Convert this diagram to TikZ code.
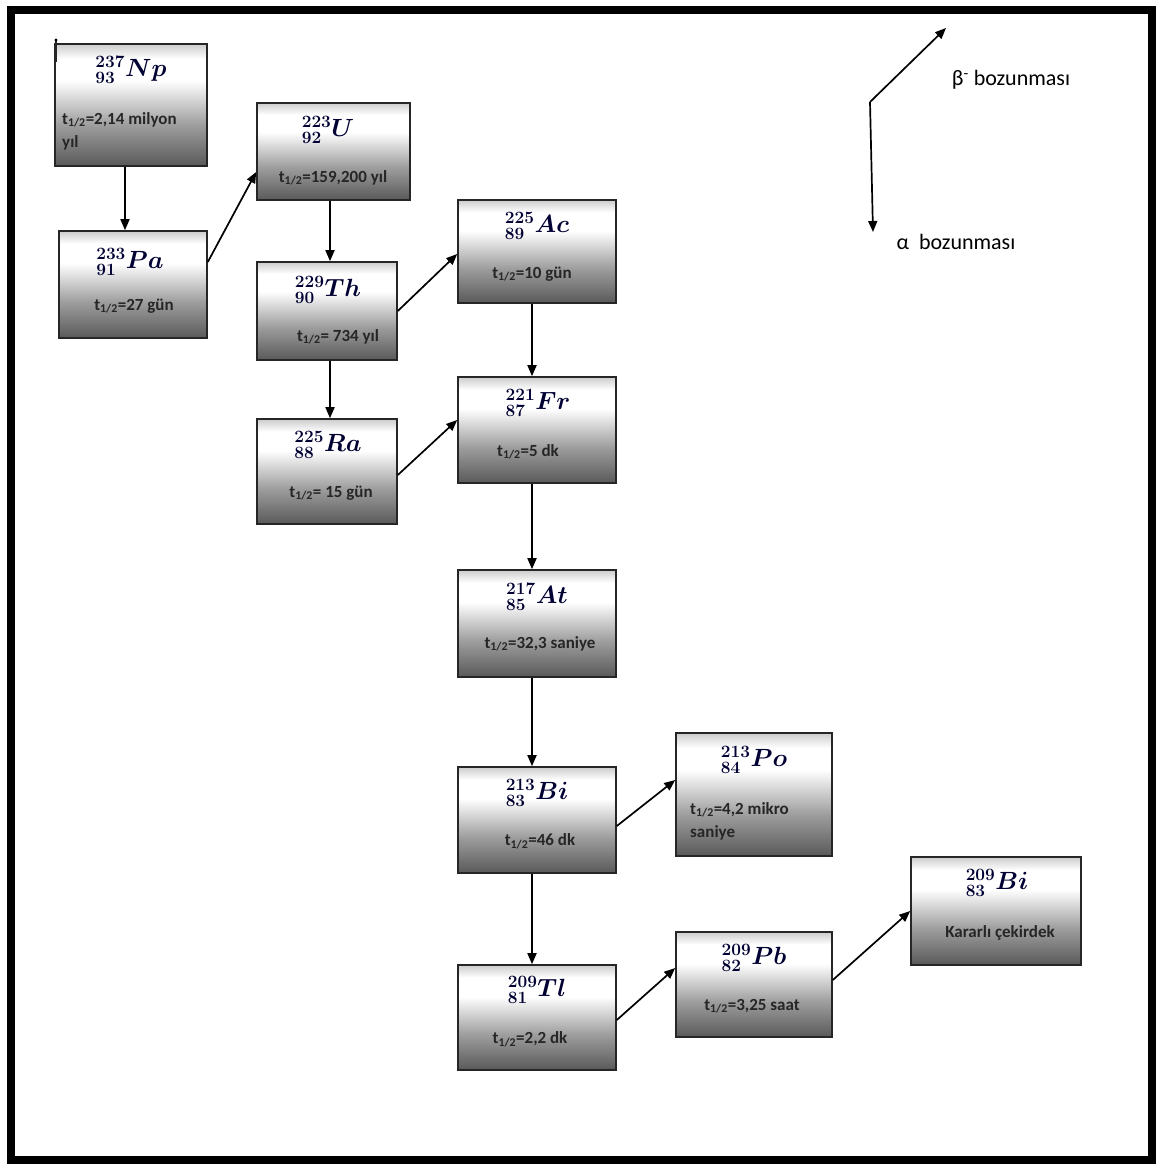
\documentclass[tikz,border=0pt]{standalone}
\usepackage{fontspec}
\setmainfont{Carlito}
\usetikzlibrary{arrows.meta}
\pgfdeclareverticalshading{boxshade}{100bp}{color(0bp)=(black!65); color(25bp)=(black!65); color(42bp)=(black!38); color(60bp)=(white); color(69bp)=(white); color(75bp)=(black!20); color(100bp)=(black!20)}
\newcommand{\nuc}[3]{${}^{#1}_{#2}#3$}
\newcommand{\thalf}{t\textsubscript{1/2}}
\tikzset{
  box/.style={draw=black!85, line width=1.6pt, shading=boxshade, inner sep=0pt},
  nucl/.style={font=\fontsize{25}{27}\selectfont\mathversion{bold}, inner sep=0pt, text=black!80!blue},
  tt/.style={font=\fontsize{17}{23}\selectfont\bfseries, inner sep=0pt, text=black!85},
  arr/.style={-{Triangle[length=11pt,width=9pt]}, line width=1.7pt, black},
  leg/.style={font=\fontsize{22}{24}\selectfont, inner sep=0pt}
}
\begin{document}
\begin{tikzpicture}[x=1pt,y=-1pt]
\useasboundingbox (0,0) rectangle (1156,1164);
\draw[line width=8pt] (11,10) rectangle (1152,1160);
% boxes
\node[box, minimum width=152, minimum height=122] (Np) at (131,105) {};
\node[box, minimum width=148, minimum height=107] (Pa) at (133,284.5) {};
\node[box, minimum width=153, minimum height=97] (U) at (333.5,151.5) {};
\node[box, minimum width=140, minimum height=98] (Th) at (327,311) {};
\node[box, minimum width=140, minimum height=105] (Ra) at (327,471.5) {};
\node[box, minimum width=158, minimum height=103] (Ac) at (537,251.5) {};
\node[box, minimum width=158, minimum height=106] (Fr) at (537,430) {};
\node[box, minimum width=158, minimum height=107] (At) at (537,623.5) {};
\node[box, minimum width=158, minimum height=106] (BiA) at (537,820) {};
\node[box, minimum width=156, minimum height=123] (Po) at (754,794.5) {};
\node[box, minimum width=158, minimum height=105] (Tl) at (537,1017.5) {};
\node[box, minimum width=156, minimum height=105] (Pb) at (754,984.5) {};
\node[box, minimum width=170, minimum height=108] (BiB) at (996,911) {};
\draw[line width=1.4pt, black!85] (56,62) coordinate (mk1) -- (56,40) coordinate (mk2);
\fill (mk2) circle (1.6pt);
% nuclide labels
\node[nucl] (Np-n) at (131,70) {\nuc{237}{93}{Np}};
\node[nucl] (Pa-n) at (130,262) {\nuc{233}{91}{Pa}};
\node[nucl] (U-n) at (328,130) {\nuc{223}{92}{U}};
\node[nucl] (Th-n) at (328,290) {\nuc{229}{90}{Th}};
\node[nucl] (Ra-n) at (328,445) {\nuc{225}{88}{Ra}};
\node[nucl] (Ac-n) at (537,226) {\nuc{225}{89}{Ac}};
\node[nucl] (Fr-n) at (538,403) {\nuc{221}{87}{Fr}};
\node[nucl] (At-n) at (537,597) {\nuc{217}{85}{At}};
\node[nucl] (BiA-n) at (537,793) {\nuc{213}{83}{Bi}};
\node[nucl] (Po-n) at (754,760) {\nuc{213}{84}{Po}};
\node[nucl] (Tl-n) at (537,990) {\nuc{209}{81}{Tl}};
\node[nucl] (Pb-n) at (754,958) {\nuc{209}{82}{Pb}};
\node[nucl] (BiB-n) at (997,883) {\nuc{209}{83}{Bi}};
% half-lives
\node[tt, anchor=west, align=left] (Np-t) at (62,131) {\thalf=2,14 milyon\\yıl};
\node[tt] (Pa-t) at (134,306) {\thalf=27 gün};
\node[tt] (U-t) at (333,178) {\thalf=159,200 yıl};
\node[tt] (Th-t) at (338,337) {\thalf= 734 yıl};
\node[tt] (Ra-t) at (331,493) {\thalf= 15 gün};
\node[tt] (Ac-t) at (532,274) {\thalf=10 gün};
\node[tt] (Fr-t) at (528,452) {\thalf=5 dk};
\node[tt] (At-t) at (540,644) {\thalf=32,3 saniye};
\node[tt] (BiA-t) at (540,841) {\thalf=46 dk};
\node[tt, anchor=west, align=left] (Po-t) at (690,821) {\thalf=4,2 mikro\\saniye};
\node[tt] (Tl-t) at (530,1039) {\thalf=2,2 dk};
\node[tt] (Pb-t) at (752,1006) {\thalf=3,25 saat};
\node[tt] (BiB-t) at (1000,933) {Kararlı çekirdek};
% connectors
\draw[arr] ([xshift=-6pt]Np.south) -- ([xshift=-6pt]Np.south |- Pa.north);
\draw[arr] ([yshift=22.5pt]Pa.east) -- ([yshift=-20.5pt]U.west);
\draw[arr] ([xshift=-3.5pt]U.south) -- ([xshift=-3.5pt]U.south |- Th.north);
\draw[arr] ([xshift=3pt]Th.south) -- ([xshift=3pt]Th.south |- Ra.north);
\draw[arr] (Th.east) -- ([yshift=-2.5pt]Ac.west);
\draw[arr] ([yshift=-3.5pt]Ra.east) -- ([yshift=10pt]Fr.west);
\draw[arr] ([xshift=-5pt]Ac.south) -- ([xshift=-5pt]Fr.north);
\draw[arr] ([xshift=-5pt]Fr.south) -- ([xshift=-5pt]At.north);
\draw[arr] ([xshift=-5pt]At.south) -- ([xshift=-5pt]BiA.north);
\draw[arr] ([yshift=-6pt]BiA.east) -- ([yshift=14.5pt]Po.west);
\draw[arr] ([xshift=-5pt]BiA.south) -- ([xshift=-5pt]Tl.north);
\draw[arr] ([yshift=-2.5pt]Tl.east) -- ([yshift=16.5pt]Pb.west);
\draw[arr] ([yshift=4.5pt]Pb.east) -- (BiB.west);
% legend
\coordinate (lc) at (870,102);
\coordinate (lb) at (946,28);
\coordinate (la) at (873,232);
\draw[arr] (lc) -- (lb);
\draw[arr] (lc) -- (la);
\node[leg] (lbt) at (1011,80) {β\textsuperscript{-} bozunması};
\node[leg] (lat) at (956,242) {α\ \ bozunması};
\end{tikzpicture}
\end{document}
